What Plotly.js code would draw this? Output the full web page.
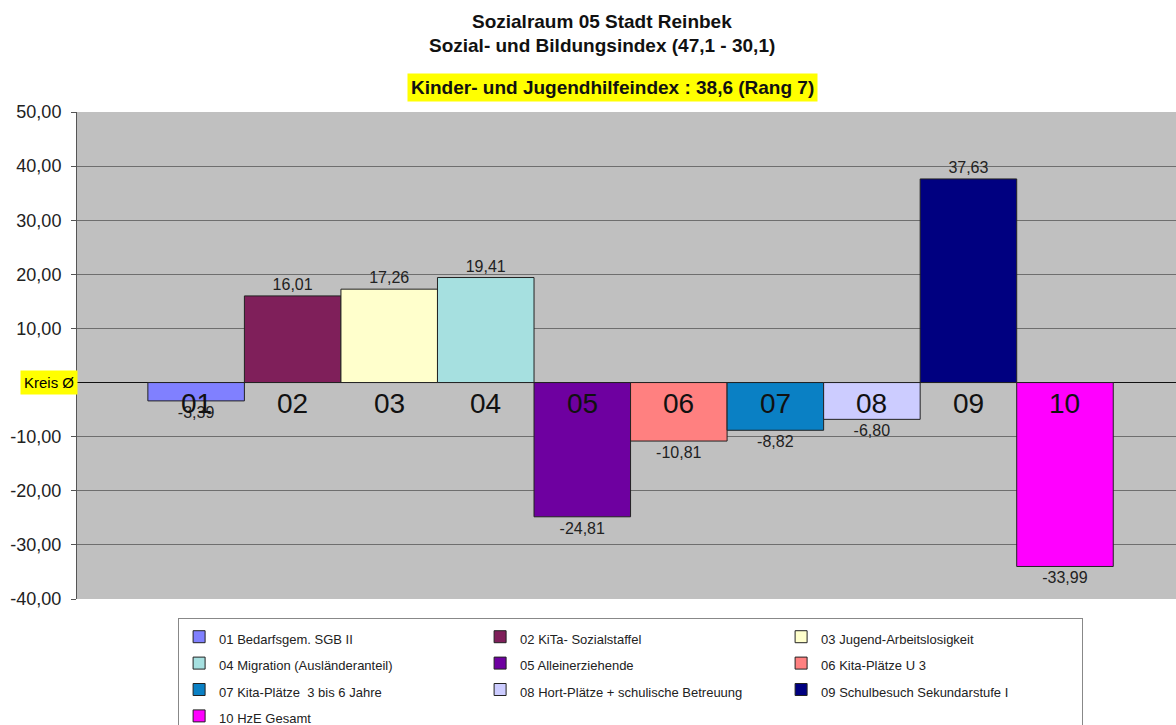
<!DOCTYPE html>
<html>
<head>
<meta charset="utf-8">
<script src="https://cdn.plot.ly/plotly-3.0.1.min.js"></script>
<style>html,body{margin:0;padding:0;background:#fff;}#chart{width:1176px;height:725px;}</style>
</head>
<body>
<div id="chart"></div>
<script>
const categories = ["01","02","03","04","05","06","07","08","09","10"];
const seriesNames = [
  "01 Bedarfsgem. SGB II",
  "02 KiTa- Sozialstaffel",
  "03 Jugend-Arbeitslosigkeit",
  "04 Migration (Ausländeranteil)",
  "05 Alleinerziehende",
  "06 Kita-Plätze U 3",
  "07 Kita-Plätze  3 bis 6 Jahre",
  "08 Hort-Plätze + schulische Betreuung",
  "09 Schulbesuch Sekundarstufe I",
  "10 HzE Gesamt"
];
const values = [-3.39, 16.01, 17.26, 19.41, -24.81, -10.81, -8.82, -6.80, 37.63, -33.99];
const colors = ["#8080FF","#7F1F5A","#FFFFCC","#A6E0E0","#6E00A0","#FF8080","#0A80C4","#CCCCFF","#000080","#FF00FF"];
const yTicks = [-40,-30,-20,-10,0,10,20,30,40,50];
const titleLines = ["Sozialraum 05 Stadt Reinbek","Sozial- und Bildungsindex (47,1 - 30,1)"];
const subtitle = "Kinder- und Jugendhilfeindex : 38,6 (Rang 7)";
const zeroLabel = "Kreis Ø";

const FONT = "Liberation Sans, Arial, sans-serif";

const traces = categories.map((c, i) => ({
  type: "bar",
  x: [i],
  y: [values[i]],
  width: [1],
  name: '<span style="font-size:13px">' + seriesNames[i] + '</span>',
  marker: {color: colors[i], line: {color: "#222", width: 1}},
  texttemplate: "%{y:.2f}",
  textposition: "outside",
  textfont: {family: FONT, size: 16, color: "#222"},
  cliponaxis: false,
  hoverinfo: "y"
}));

const annotations = categories.map((c, i) => ({
  x: i, y: 0, xref: "x", yref: "y",
  text: c, showarrow: false, yanchor: "top", yshift: -3,
  font: {family: FONT, size: 28, color: "#111"}
}));
annotations.push({
  x: 0, y: 0, xref: "paper", yref: "y", xanchor: "right", xshift: 1,
  text: zeroLabel, showarrow: false, bgcolor: "#FFFF00",
  font: {family: FONT, size: 15, color: "#000"}, borderpad: 3
});
annotations.push({
  x: 0.487, y: 1.081, xref: "paper", yref: "paper",
  text: "<b>" + subtitle + "</b>", showarrow: false, bgcolor: "#FFFF00",
  font: {family: FONT, size: 19, color: "#111"}, borderpad: 3
});
const titleY = [1.212, 1.163];
titleLines.forEach((t, i) => annotations.push({
  x: 0.478, y: titleY[i], xref: "paper", yref: "paper",
  text: "<b>" + t + "</b>", showarrow: false,
  font: {family: FONT, size: 19, color: "#111"}
}));

const layout = {
  width: 1176, height: 725,
  margin: {l: 77, r: 0, t: 112, b: 126, autoexpand: false},
  paper_bgcolor: "#FFFFFF",
  plot_bgcolor: "#C0C0C0",
  separators: ",.",
  barmode: "relative",
  bargap: 0,
  showlegend: true,
  xaxis: {
    type: "linear",
    range: [-1.234, 10.15],
    showticklabels: false, showgrid: false, zeroline: false, ticks: "", showline: false
  },
  yaxis: {
    range: [-40, 50],
    tickvals: yTicks,
    ticktext: yTicks.map(v => v === 0 ? "" : v.toFixed(2).replace(".", ",")),
    tickfont: {family: FONT, size: 18, color: "#222"},
    ticks: "outside", ticklen: 5, tickcolor: "#555",
    ticklabelstandoff: 6,
    showgrid: true, gridcolor: "#6e6e6e", gridwidth: 1,
    zeroline: true, zerolinecolor: "#111", zerolinewidth: 1,
    showline: true, linecolor: "#555", linewidth: 1
  },
  legend: {
    orientation: "h",
    x: 0.092, xanchor: "left", y: -0.038, yanchor: "top",
    entrywidth: 256, entrywidthmode: "pixels",
    bgcolor: "#FFFFFF", bordercolor: "#888", borderwidth: 1,
    font: {family: FONT, size: 18, color: "#222"},
    traceorder: "normal"
  },
  annotations: annotations
};

Plotly.newPlot("chart", traces, layout, {displayModeBar: false, staticPlot: true});
</script>
</body>
</html>
